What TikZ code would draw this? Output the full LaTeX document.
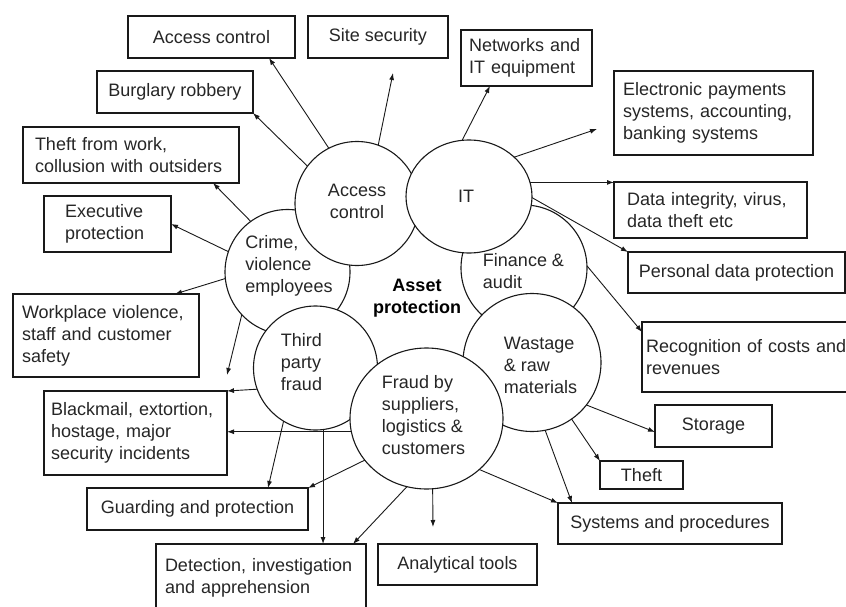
\documentclass[tikz,border=0pt]{standalone}
\usepackage{fontspec}
\setmainfont{Liberation Sans}
\usetikzlibrary{arrows.meta,shapes.geometric}

\begin{document}
\begin{tikzpicture}[x=1pt,y=-1pt,
  every node/.style={font=\fontsize{18}{22}\selectfont, text=black!85},
  box/.style={draw=black!90, line width=1.1pt, rectangle, anchor=north west,
    inner ysep=2pt, outer sep=0pt},
  cbox/.style={box, align=center, inner xsep=2pt},
  lbox/.style={box, align=left},
  disc/.style={circle, draw=black!90, line width=1.1pt, fill=white,
    inner sep=0pt, outer sep=0pt, minimum size=#1},
  oval/.style={ellipse, draw=black!90, line width=1.1pt, fill=white,
    inner sep=0pt, outer sep=0pt},
  lbl/.style={inner sep=0pt},
  arr/.style={draw=black!90, line width=0.9pt, -{Latex[length=7pt,width=5pt]}}
]
\path[use as bounding box, fill=white] (0,0) rectangle (846,607);

% outer boxes
\node[cbox, minimum width=167pt, minimum height=42pt] (accbox) at (128,16) {Access control};
\node[cbox, minimum width=140pt, minimum height=42pt] (sitebox) at (308,16) {Site security};
\node[lbox, minimum width=131pt, minimum height=56pt, text width=115pt, inner xsep=8pt] (netbox) at (461,30) {Networks and\\IT equipment};
\node[lbox, minimum width=199pt, minimum height=84pt, text width=181pt, inner xsep=9pt] (epbox) at (614,71) {Electronic payments\\systems, accounting,\\banking systems};
\node[cbox, minimum width=156pt, minimum height=42pt] (burgbox) at (97,71) {Burglary robbery};
\node[lbox, minimum width=216pt, minimum height=56pt, text width=192pt, inner xsep=12pt] (tfwbox) at (23,127) {Theft from work,\\collusion with outsiders};
\node[lbox, minimum width=193pt, minimum height=56pt, text width=167pt, inner xsep=13pt] (dibox) at (614,182) {Data integrity, virus,\\data theft etc};
\node[lbox, minimum width=127pt, minimum height=56pt, text width=85pt, inner xsep=21pt] (exbox) at (44,196) {Executive\\protection};
\node[cbox, minimum width=217pt, minimum height=41pt] (pdbox) at (628,252) {Personal data protection};
\node[lbox, minimum width=186pt, minimum height=83pt, text width=168pt, inner xsep=9pt] (wvbox) at (13,294) {Workplace violence,\\staff and customer\\safety};
\node[lbox, minimum width=228pt, minimum height=70pt, text width=220pt, inner xsep=4pt] (rcbox) at (642,322) {Recognition of costs and\\revenues};
\node[lbox, minimum width=183pt, minimum height=84pt, text width=169pt, inner xsep=7pt] (bmbox) at (44,391) {Blackmail, extortion,\\hostage, major\\security incidents};
\node[cbox, minimum width=117pt, minimum height=42pt] (stbox) at (655,405) {Storage};
\node[cbox, minimum width=83pt, minimum height=28pt, inner ysep=1pt] (thbox) at (600,461) {Theft};
\node[cbox, minimum width=221pt, minimum height=42pt] (gpbox) at (87,488) {Guarding and protection};
\node[cbox, minimum width=224pt, minimum height=41pt] (spbox) at (558,503) {Systems and procedures};
\node[lbox, minimum width=210pt, minimum height=68pt, text width=192pt, inner xsep=9pt] (dtbox) at (156,544) {Detection, investigation\\and apprehension};
\node[cbox, minimum width=159pt, minimum height=41pt] (atbox) at (378,544) {Analytical tools};

% free arrow ends
\coordinate (siteTip) at (393,73);
\coordinate (crimeTip) at (227,375);
\coordinate (atTip) at (433,527);
\coordinate (epTip) at (597,129);

% circles, later ones overlap earlier ones
\node[disc=125pt] (crime) at (287.5,272) {};
\node[disc=124pt] (acc) at (357,203.5) {};
\node[disc=126pt] (fin) at (524,268) {};
\node[oval, minimum width=126pt, minimum height=113pt] (it) at (469,196.5) {};
\node[disc=124pt] (tp) at (315.5,368) {};
\node[disc=138pt] (waste) at (532,362.5) {};
\node[oval, minimum width=153pt, minimum height=141pt] (fraud) at (426.5,418.5) {};

% circle labels
\node[lbl, align=center] (accT) at (357,201) {Access\\control};
\node[lbl] (itT) at (466,196) {IT};
\node[lbl, align=left] (crimeT) at (289,266) {Crime,\\violence\\employees};
\node[lbl, align=left] (tpT) at (301.5,362) {Third\\party\\fraud};
\node[lbl, align=left] (finT) at (523.5,271) {Finance \&\\audit};
\node[lbl, align=left] (wasteT) at (540.5,365) {Wastage\\\& raw\\materials};
\node[lbl, align=left] (fraudT) at (423.5,415) {Fraud by\\suppliers,\\logistics \&\\customers};
\node[lbl, align=center, font=\fontsize{18}{22}\selectfont\bfseries, text=black] (asset) at (417,298) {Asset\\protection};

% connectors
\draw[arr] (acc.117) -- ([xshift=141pt]accbox.south west);
\draw[arr] (acc.70) -- (siteTip);
\draw[arr] (acc.143.5) -- (burgbox.south east);
\draw[arr] (crime.126) -- ([xshift=190pt]tfwbox.south west);
\draw[arr] (crime.161) -- (exbox.east);
\draw[arr] (crime.186) -- ([xshift=162pt]wvbox.north west);
\draw[arr] (crime.223.5) -- (crimeTip);
\draw[arr] (tp.200) -- (bmbox.north east);
\draw[arr] (fraud.190) -- (fraud.190 -| bmbox.east);
\draw[arr] (tp.239) -- ([xshift=181pt]gpbox.north west);
\draw[arr] (fraud.214) -- (gpbox.north east);
\draw[arr] (tp.277) -- (tp.277 |- dtbox.north);
\draw[arr] (fraud.254) -- ([xshift=197pt]dtbox.north west);
\draw[arr] (fraud.275) -- (atTip);
\draw[arr] (fraud.316.6) -- (spbox.north west);
\draw[arr] (waste.281) -- ([xshift=14pt]spbox.north west);
\draw[arr] (waste.305) -- (thbox.north west);
\draw[arr] (waste.322) -- ([yshift=15pt]stbox.south west);
\draw[arr] (fin.2) -- ([yshift=-10pt]rcbox.north west);
\draw[arr] (it.359) -- (pdbox.north west);
\draw[arr] (it.13) -- (it.13 -| dibox.west);
\draw[arr] (it.41) -- (epTip);
\draw[arr] (it.97) -- ([xshift=29pt]netbox.south west);
\end{tikzpicture}
\end{document}
